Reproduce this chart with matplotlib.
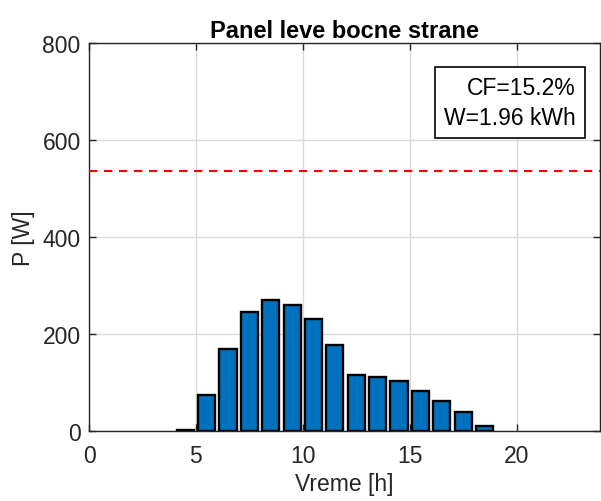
import matplotlib
matplotlib.use("Agg")
import matplotlib.pyplot as plt

hours = [4.5, 5.5, 6.5, 7.5, 8.5, 9.5, 10.5, 11.5, 12.5, 13.5, 14.5, 15.5, 16.5, 17.5, 18.5]
power = [3, 74, 169, 245, 271, 260, 230, 178, 116, 111, 104, 83, 61, 40, 11]
rated_power = 537
xticks = [0, 5, 10, 15, 20]
yticks = [0, 200, 400, 600, 800]
title = "Panel leve bocne strane"
xlabel = "Vreme [h]"
ylabel = "P [W]"
info_text = "CF=15.2%\nW=1.96 kWh"

plt.rcParams['font.family'] = ['Liberation Sans', 'DejaVu Sans']

fig = plt.figure(figsize=(6.01, 5.02), dpi=100)
ax = fig.add_axes([0.1481, 0.1394, 0.8503, 0.7729])

axcol = '#262626'
ax.bar(hours, power, width=0.8, color='#0072BD', edgecolor='black', linewidth=1.7, zorder=3)
ax.axhline(rated_power, color='#FF0000', linestyle=(0, (4, 3.2)), linewidth=1.5, zorder=4)

ax.set_xlim(0, 23.9)
ax.set_ylim(0, 800)
ax.set_xticks(xticks)
ax.set_yticks(yticks)
ax.grid(True, color='#DADADA', linewidth=1.0, zorder=0)
ax.set_axisbelow(True)
ax.tick_params(direction='in', length=5, width=1, colors=axcol, labelsize=16.5,
               top=True, right=True)
ax.tick_params(axis='x', pad=9)
ax.tick_params(axis='y', pad=6)
for sp in ax.spines.values():
    sp.set_color(axcol)
    sp.set_linewidth(1.0)

ax.set_title(title, fontsize=17, fontweight='bold', pad=4.5)
ax.set_xlabel(xlabel, fontsize=16.5, color=axcol, labelpad=4)
ax.set_ylabel(ylabel, fontsize=16.5, color=axcol, labelpad=5)

ax.text(0.952, 0.914, info_text, transform=ax.transAxes, ha='right', va='top',
        fontsize=16.5, linespacing=1.38, zorder=5,
        bbox=dict(boxstyle='square,pad=0.4', facecolor='white', edgecolor='black', linewidth=1.2))

fig.savefig('out.png', dpi=100)
